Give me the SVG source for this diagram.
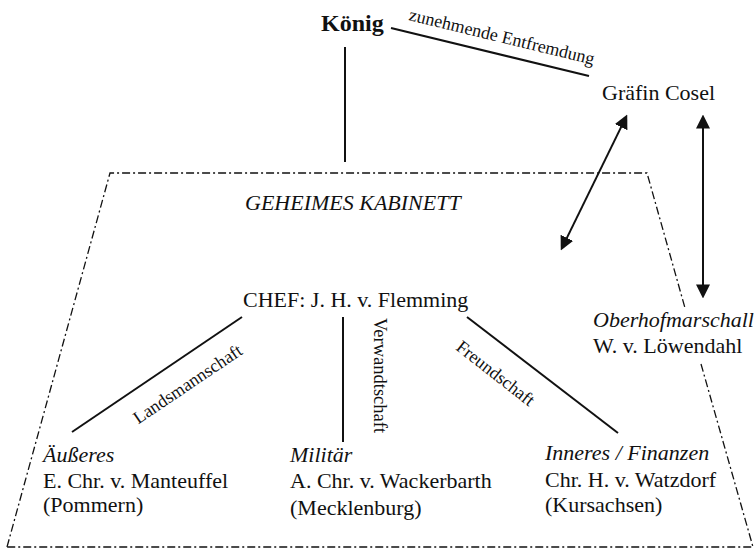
<svg xmlns="http://www.w3.org/2000/svg" width="755" height="559" viewBox="0 0 755 559">
<defs>
<style>
.t{font-family:"Liberation Serif","Times New Roman",serif;font-size:22px;fill:#111}
.i{font-style:italic}
.lbl{font-family:"Liberation Serif","Times New Roman",serif;font-size:18px;fill:#111}
.ln{stroke:#111;stroke-width:2;fill:none}
.dd{stroke:#111;stroke-width:1.3;fill:none;stroke-dasharray:8 3 2 3}
</style>
<marker id="ah" markerUnits="userSpaceOnUse" markerWidth="14" markerHeight="14" viewBox="0 0 13 13" refX="7" refY="6.5" orient="auto-start-reverse">
<path d="M0,0 L13,6.5 L0,13 z" fill="#111"/>
</marker>
</defs>
<rect width="755" height="559" fill="#fff"/>
<g id="kabinett-frame">
<path class="dd" d="M7,547 L110,173 L647,173 L685,308"/>
<path class="dd" d="M701,364 L753,547 L7,547"/>
</g>
<g id="connectors">
<line class="ln" x1="345" y1="47" x2="345" y2="162"/>
<line class="ln" x1="391" y1="28" x2="589" y2="76"/>
<line class="ln" x1="242" y1="317" x2="72" y2="432"/>
<line class="ln" x1="343" y1="317" x2="343" y2="442"/>
<line class="ln" x1="467" y1="317" x2="618" y2="433"/>
<line class="ln" x1="563.6" y1="244.6" x2="624.4" y2="120.4" marker-start="url(#ah)" marker-end="url(#ah)"/>
<line class="ln" x1="703" y1="121" x2="703" y2="292" marker-start="url(#ah)" marker-end="url(#ah)"/>
<text class="lbl" x="408" y="20" transform="rotate(13.6 408 20)">zunehmende Entfremdung</text>
<text class="lbl" x="191" y="389" text-anchor="middle" transform="rotate(-34 191 389)">Landsmannschaft</text>
<text class="lbl" x="374" y="318" style="font-size:18.5px" transform="rotate(90 374 318)">Verwandtschaft</text>
<text class="lbl" x="492" y="378" text-anchor="middle" transform="rotate(38 492 378)">Freundschaft</text>
</g>
<g id="koenig"><text class="t" x="321" y="31" style="font-weight:bold;font-size:24px">König</text></g>
<g id="cosel"><text class="t" x="602" y="100">Gräfin Cosel</text></g>
<g id="geheimes-kabinett"><text class="t i" x="245" y="210">GEHEIMES KABINETT</text></g>
<g id="chef"><text class="t" x="243" y="307">CHEF: J. H. v. Flemming</text></g>
<g id="oberhofmarschall">
<text class="t i" x="593" y="327">Oberhofmarschall</text>
<text class="t" x="593" y="353">W. v. Löwendahl</text>
</g>
<g id="aeusseres">
<text class="t i" x="43" y="462">Äußeres</text>
<text class="t" x="43" y="488">E. Chr. v. Manteuffel</text>
<text class="t" x="43" y="512">(Pommern)</text>
</g>
<g id="militaer">
<text class="t i" x="290" y="462">Militär</text>
<text class="t" x="290" y="488">A. Chr. v. Wackerbarth</text>
<text class="t" x="290" y="515">(Mecklenburg)</text>
</g>
<g id="inneres">
<text class="t i" x="545" y="460">Inneres / Finanzen</text>
<text class="t" x="545" y="487">Chr. H. v. Watzdorf</text>
<text class="t" x="545" y="512">(Kursachsen)</text>
</g>
</svg>
